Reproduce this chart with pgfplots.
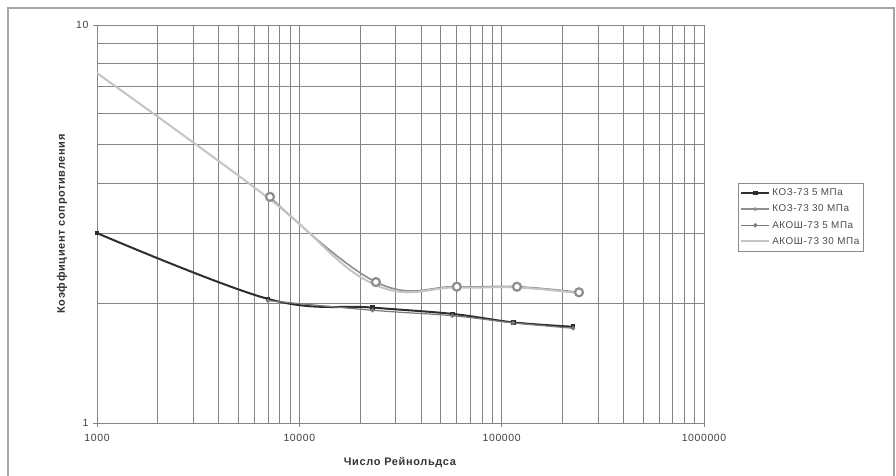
\documentclass[border=0pt]{standalone}
\usepackage{fontspec}
\setmainfont{Liberation Sans}[LetterSpace=6]
\usepackage{pgfplots}
\pgfplotsset{compat=1.18}
\definecolor{gridc}{HTML}{858585}
\definecolor{kozfive}{HTML}{2E2E2E}
\definecolor{kozthirty}{HTML}{8E8E8E}
\definecolor{akfive}{HTML}{7A7A7A}
\definecolor{akthirty}{HTML}{C4C4C4}
\begin{document}
\begin{tikzpicture}[x=1bp,y=1bp]
\useasboundingbox (0,0) rectangle (896,476);
\fill[white] (0,0) rectangle (896,476);
\draw[black!35, line width=1.6bp] (8,-10) -- (8,468) -- (894,468) -- (894,-10);
\begin{axis}[
  at={(97bp,53bp)}, anchor=south west,
  scale only axis, width=607bp, height=398bp,
  xmode=log, ymode=log,
  xmin=1000, xmax=1000000, ymin=1, ymax=10,
  xtick={1000,10000,100000,1000000},
  xticklabels={1000,10000,100000,1000000},
  ytick={1,10}, yticklabels={1,10},
  minor xtick={2000,3000,4000,5000,6000,7000,8000,9000,20000,30000,40000,50000,60000,70000,80000,90000,200000,300000,400000,500000,600000,700000,800000,900000},
  minor ytick={2,3,4,5,6,7,8,9},
  grid=both,
  major grid style={gridc, line width=0.9bp},
  minor grid style={gridc, line width=0.9bp},
  axis line style={gridc, line width=0.9bp},
  tick style={gridc, line width=0.9bp},
  major tick length=4bp, minor tick length=0pt,
  tick align=outside,
  xtick pos=bottom, ytick pos=left,
  /pgf/number format/assume math mode=true,
  tick label style={font=\fontsize{10.5}{12}\selectfont, text=black!75},
  xticklabel style={yshift=-4bp},
  yticklabel style={xshift=-1bp},
  xlabel={Число Рейнольдса},
  ylabel={Коэффициент сопротивления},
  label style={font=\fontsize{11}{13}\selectfont\bfseries, text=black!80},
  xlabel style={at={(axis description cs:0.499,-0.1005)}, anchor=center},
  ylabel style={at={(axis description cs:-0.0577,0.5)}, anchor=center, rotate=0},
  legend style={at={(axis description cs:1.056,0.603)}, anchor=north west,
    draw=black!45, line width=0.6bp, font=\fontsize{9.9}{10.5}\selectfont, text=black!70,
    row sep=3.8bp, inner xsep=2bp, inner ysep=3.5bp},
  legend cell align=left,
  legend image code/.code={\draw[#1] (0bp,0bp) -- (28bp,0bp); \draw[#1, only marks] plot coordinates {(14bp,0bp)};},
]
\addplot[kozfive, line width=2bp, smooth, tension=0.6, mark=square*, mark size=1.4bp, mark options={fill=kozfive}]
coordinates {(1000,3.0) (7000,2.05) (23000,1.95) (57000,1.88) (114000,1.79) (225000,1.745)};
\addlegendentry{КОЗ-73 5 МПа}
\addplot[kozthirty, line width=1.6bp, smooth, tension=0.7, mark=*, mark size=4bp, mark options={fill=white, line width=2.2bp},
  legend image post style={mark size=1.6bp, mark options={fill=kozthirty, line width=0.6bp}}]
coordinates {(7160,3.70) (23900,2.26) (60000,2.20) (119000,2.20) (241000,2.13)};
\addlegendentry{КОЗ-73 30 МПа}
\addplot[akfive, line width=1.2bp, smooth, tension=0.7, mark=*, mark size=1.5bp, mark options={fill=akfive}]
coordinates {(7000,2.03) (23000,1.92) (57000,1.86) (114000,1.785) (225000,1.73)};
\addlegendentry{АКОШ-73 5 МПа}
\addplot[akthirty, line width=2bp, smooth, tension=0.7]
coordinates {(1000,7.57) (7000,3.68) (23000,2.24) (60000,2.19) (119000,2.19) (241000,2.12)};
\addlegendentry{АКОШ-73 30 МПа}
\end{axis}
\end{tikzpicture}
\end{document}
